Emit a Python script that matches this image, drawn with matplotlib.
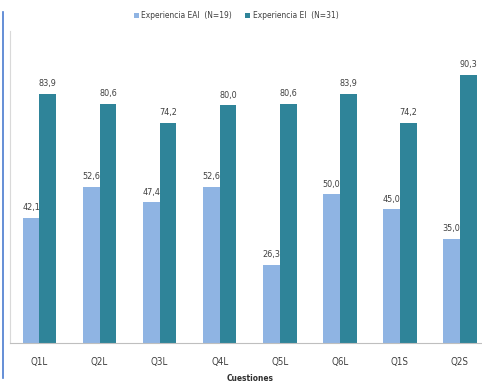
import numpy as np
import matplotlib
matplotlib.use("Agg")
import matplotlib.pyplot as plt
from matplotlib.lines import Line2D

plt.rcParams['font.family'] = ['DejaVu Sans']
plt.rcParams['font.stretch'] = 'condensed'

## DATA
cuestiones = ["Q1L", "Q2L", "Q3L", "Q4L", "Q5L", "Q6L", "Q1S", "Q2S"]
eai = [42.1, 52.6, 47.4, 52.6, 26.3, 50.0, 45.0, 35.0]   # Experiencia EAI (N=19)
ei = [83.9, 80.6, 74.2, 80.0, 80.6, 83.9, 74.2, 90.3]    # Experiencia EI (N=31)

light = "#8fb4e3"
dark = "#2f8499"

fig = plt.figure(figsize=(4.82, 3.83), dpi=100)
ax = fig.add_axes([10/482, 40/383, 480/482, 312/383])

x = np.arange(len(cuestiones))
w = 0.28
b1 = ax.bar(x - w/2, eai, w, color=light, label="Experiencia EAI  (N=19)")
b2 = ax.bar(x + w/2, ei, w, color=dark, label="Experiencia EI  (N=31)")

# value labels with comma decimals
for bars, vals in ((b1, eai), (b2, ei)):
    for rect, v in zip(bars, vals):
        ax.annotate(f"{v:.1f}".replace(".", ","),
                    (rect.get_x() + rect.get_width()/2, v),
                    xytext=(0, 4), textcoords="offset points",
                    ha="center", va="bottom", fontsize=6.5, color="#404040")

ax.set_xlim(-0.49, 7.5)
ax.set_ylim(0, 105)
ax.set_yticks([])
ax.set_xticks(x)
ax.set_xticklabels(cuestiones, fontsize=7, color="#404040")
ax.tick_params(axis="x", length=0, pad=10)
ax.set_xlabel("Cuestiones", fontsize=6, fontweight="bold", color="#303030", labelpad=5)

for s in ("top", "right"):
    ax.spines[s].set_visible(False)
ax.spines["left"].set_color("#d9d9d9")
ax.spines["bottom"].set_color("#bfbfbf")

fig.legend(loc="upper center", bbox_to_anchor=(0.49, 0.99), ncol=2, frameon=False,
           fontsize=6, handlelength=0.6, handleheight=0.6, handletextpad=0.3,
           columnspacing=1.6, labelcolor="#404040")

# blue frame edge on the left
fig.add_artist(Line2D([3/482, 3/482], [5/383, 371/383], color="#4a7bd0", lw=1.2))

fig.savefig("out.png", dpi=100)
